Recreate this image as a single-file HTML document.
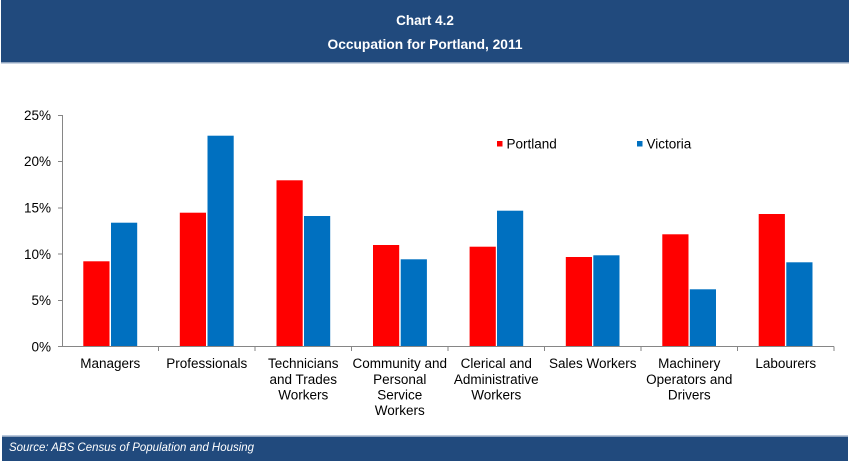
<!DOCTYPE html>
<html>
<head>
<meta charset="utf-8">
<style>
  html,body{margin:0;padding:0;background:#fff;}
  body{width:850px;height:463px;overflow:hidden;}
  svg{display:block;font-family:"Liberation Sans",Arial,sans-serif;}
</style>
</head>
<body>
<svg width="850" height="463" viewBox="0 0 850 463" xmlns="http://www.w3.org/2000/svg">
  <rect x="0" y="0" width="850" height="463" fill="#fff"/>
  <!-- header -->
  <rect x="1" y="0" width="848" height="62.5" fill="#214a7d"/>
  <line x1="1" y1="63.5" x2="849" y2="63.5" stroke="#c9d4e3" stroke-width="1"/>
  <text x="425" y="25" text-anchor="middle" fill="#fff" font-size="13.5" font-weight="bold">Chart 4.2</text>
  <text x="425" y="49" text-anchor="middle" fill="#fff" font-size="13.5" font-weight="bold" textLength="195" lengthAdjust="spacingAndGlyphs">Occupation for Portland, 2011</text>

  <!-- y axis labels -->
  <g font-size="13.5" fill="#000" text-anchor="end">
    <text x="51" y="120">25%</text>
    <text x="51" y="166">20%</text>
    <text x="51" y="212.5">15%</text>
    <text x="51" y="259">10%</text>
    <text x="51" y="305">5%</text>
    <text x="51" y="351.5">0%</text>
  </g>

  <!-- bars -->
  <g>
    <rect x="83.3" y="261.3" width="26.2" height="85" fill="#ff0000"/>
    <rect x="111" y="222.7" width="26.2" height="123.6" fill="#0070c0"/>
    <rect x="179.8" y="212.7" width="26.2" height="133.6" fill="#ff0000"/>
    <rect x="207.5" y="135.7" width="26.2" height="210.6" fill="#0070c0"/>
    <rect x="276.5" y="180.3" width="26.2" height="166" fill="#ff0000"/>
    <rect x="304" y="216" width="26.2" height="130.3" fill="#0070c0"/>
    <rect x="373" y="245" width="26.2" height="101.3" fill="#ff0000"/>
    <rect x="400.7" y="259.3" width="26.2" height="87" fill="#0070c0"/>
    <rect x="469.6" y="246.7" width="26.2" height="99.6" fill="#ff0000"/>
    <rect x="497" y="210.7" width="26.2" height="135.6" fill="#0070c0"/>
    <rect x="565.8" y="257" width="26.2" height="89.3" fill="#ff0000"/>
    <rect x="593.3" y="255.3" width="26.2" height="91" fill="#0070c0"/>
    <rect x="662.3" y="234.3" width="26.2" height="112" fill="#ff0000"/>
    <rect x="689.8" y="289.3" width="26.2" height="57" fill="#0070c0"/>
    <rect x="758.7" y="214" width="26.2" height="132.3" fill="#ff0000"/>
    <rect x="786.3" y="262.3" width="26.2" height="84" fill="#0070c0"/>
  </g>

  <!-- axes -->
  <g stroke="#868686" stroke-width="1">
    <line x1="62.5" y1="115" x2="62.5" y2="346.5"/>
    <line x1="58" y1="115.5" x2="62.5" y2="115.5"/>
    <line x1="58" y1="161.5" x2="62.5" y2="161.5"/>
    <line x1="58" y1="208" x2="62.5" y2="208"/>
    <line x1="58" y1="254" x2="62.5" y2="254"/>
    <line x1="58" y1="300.5" x2="62.5" y2="300.5"/>
    <line x1="58" y1="346.5" x2="834" y2="346.5"/>
    <line x1="158.5" y1="346.5" x2="158.5" y2="351"/>
    <line x1="255" y1="346.5" x2="255" y2="351"/>
    <line x1="351.5" y1="346.5" x2="351.5" y2="351"/>
    <line x1="448" y1="346.5" x2="448" y2="351"/>
    <line x1="544.5" y1="346.5" x2="544.5" y2="351"/>
    <line x1="641" y1="346.5" x2="641" y2="351"/>
    <line x1="737.5" y1="346.5" x2="737.5" y2="351"/>
    <line x1="834" y1="346.5" x2="834" y2="351"/>
  </g>

  <!-- category labels -->
  <g font-size="13.5" fill="#000" text-anchor="middle">
    <text x="110.3" y="368">Managers</text>
    <text x="206.8" y="368">Professionals</text>
    <text x="303.3" y="368">Technicians</text>
    <text x="303.3" y="384">and Trades</text>
    <text x="303.3" y="399.5">Workers</text>
    <text x="399.8" y="368">Community and</text>
    <text x="399.8" y="384">Personal</text>
    <text x="399.8" y="399.5">Service</text>
    <text x="399.8" y="415">Workers</text>
    <text x="496.3" y="368">Clerical and</text>
    <text x="496.3" y="384">Administrative</text>
    <text x="496.3" y="399.5">Workers</text>
    <text x="592.8" y="368">Sales Workers</text>
    <text x="689.3" y="368">Machinery</text>
    <text x="689.3" y="384">Operators and</text>
    <text x="689.3" y="399.5">Drivers</text>
    <text x="785.8" y="368">Labourers</text>
  </g>

  <!-- legend -->
  <rect x="497" y="141" width="5.5" height="5.5" fill="#ff0000"/>
  <text x="506.5" y="148.5" font-size="13.5" fill="#000">Portland</text>
  <rect x="637" y="141" width="5.5" height="5.5" fill="#0070c0"/>
  <text x="646.5" y="148.5" font-size="13.5" fill="#000">Victoria</text>

  <!-- footer -->
  <line x1="2" y1="435.5" x2="848" y2="435.5" stroke="#b9c8dc" stroke-width="1"/>
  <rect x="2" y="436.5" width="846" height="24.5" fill="#214a7d"/>
  <text x="9" y="451" font-size="12" font-style="italic" fill="#fff" textLength="245" lengthAdjust="spacingAndGlyphs">Source: ABS Census of Population and Housing</text>
</svg>
</body>
</html>
